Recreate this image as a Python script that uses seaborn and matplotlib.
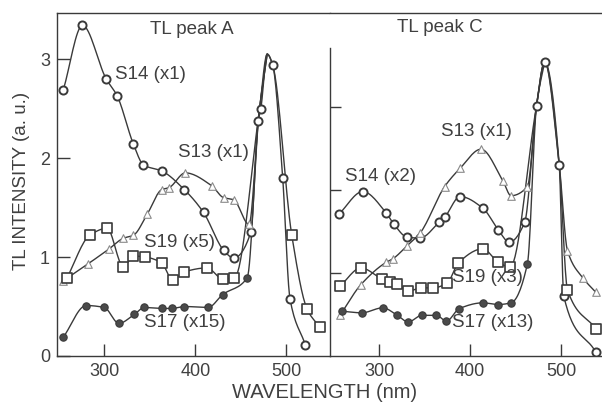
import numpy as np
import seaborn as sns
import matplotlib
matplotlib.use("Agg")
import matplotlib.pyplot as plt

# ---- TL peak A (left panel) ----
a14_wl = [255, 276, 302, 314, 332, 343, 363, 388, 409, 431, 442, 461, 469, 472, 485, 496, 504, 521]
a14_tl = [2.69, 3.34, 2.80, 2.63, 2.14, 1.93, 1.87, 1.68, 1.45, 1.07, 0.99, 1.25, 2.37, 2.50, 2.94, 1.80, 0.58, 0.11]

a13_wl = [255, 282, 305, 321, 332, 347, 363, 371, 389, 418, 431, 442, 459]
a13_tl = [0.76, 0.93, 1.08, 1.19, 1.22, 1.43, 1.68, 1.70, 1.85, 1.72, 1.60, 1.58, 1.33]

a19_wl = [259, 284, 303, 321, 332, 345, 363, 375, 388, 413, 430, 443, 506, 523, 537]
a19_tl = [0.79, 1.22, 1.29, 0.90, 1.01, 1.00, 0.94, 0.77, 0.85, 0.89, 0.78, 0.79, 1.22, 0.47, 0.29]

a17_wl = [255, 280, 300, 316, 333, 344, 363, 374, 388, 414, 430, 457]
a17_tl = [0.19, 0.51, 0.49, 0.33, 0.42, 0.49, 0.48, 0.48, 0.50, 0.49, 0.62, 0.79]

# shared points of the big emission band (curve only)
a_rise = (470, 2.45)
a_peak = (479, 3.05)
a_fall = (485, 2.94)

# ---- TL peak C (right panel) ----
c14_wl = [256, 282, 308, 316, 331, 345, 366, 372, 389, 414, 431, 443, 460, 473, 482, 498, 503, 538]
c14_tl = [1.71, 1.98, 1.72, 1.59, 1.43, 1.42, 1.61, 1.67, 1.92, 1.78, 1.52, 1.37, 1.61, 3.01, 3.54, 2.30, 0.72, 0.05]

c13_wl = [257, 280, 308, 315, 331, 345, 372, 389, 412, 436, 445, 463, 507, 524, 538]
c13_tl = [0.49, 0.86, 1.13, 1.17, 1.33, 1.48, 2.04, 2.26, 2.49, 2.11, 1.93, 2.04, 1.27, 0.94, 0.77]

c19_wl = [257, 280, 303, 312, 320, 332, 346, 359, 375, 387, 414, 431, 444, 507, 538]
c19_tl = [0.84, 1.06, 0.93, 0.89, 0.87, 0.78, 0.82, 0.82, 0.88, 1.12, 1.29, 1.13, 1.07, 0.80, 0.33]

c17_wl = [259, 281, 304, 320, 332, 347, 363, 374, 388, 414, 431, 445, 463]
c17_tl = [0.54, 0.52, 0.58, 0.49, 0.41, 0.49, 0.49, 0.42, 0.57, 0.64, 0.62, 0.64, 1.11]

c_rise = (473, 3.01)
c_peak = (482, 3.54)
c_fall = (498, 2.30)

INK = "#3a3a3a"
TXT = "#404040"


def pchip(x, y, n=16):
    # monotone cubic curve through the points (for drawing the smooth line)
    x = np.asarray(x, float)
    y = np.asarray(y, float)
    h = np.diff(x)
    d = np.diff(y) / h
    m = np.zeros_like(y)
    m[0], m[-1] = d[0], d[-1]
    for k in range(1, len(x) - 1):
        if d[k - 1] * d[k] > 0:
            w1 = 2 * h[k] + h[k - 1]
            w2 = h[k] + 2 * h[k - 1]
            m[k] = (w1 + w2) / (w1 / d[k - 1] + w2 / d[k])
    xs, ys = [], []
    for k in range(len(x) - 1):
        t = np.linspace(0, 1, n, endpoint=False)
        h00 = 2 * t**3 - 3 * t**2 + 1
        h10 = t**3 - 2 * t**2 + t
        h01 = -2 * t**3 + 3 * t**2
        h11 = t**3 - t**2
        xs.append(x[k] + t * h[k])
        ys.append(h00 * y[k] + h10 * h[k] * m[k] + h01 * y[k + 1] + h11 * h[k] * m[k + 1])
    xs.append([x[-1]])
    ys.append([y[-1]])
    return np.concatenate(xs), np.concatenate(ys)


def with_extra(wl, tl, extra):
    pts = sorted(list(zip(wl, tl)) + list(extra))
    return [p[0] for p in pts], [p[1] for p in pts]


def draw(ax, wl, tl, extra, kind):
    lx, ly = with_extra(wl, tl, extra)
    sx, sy = pchip(lx, ly)
    sns.lineplot(x=sx, y=sy, ax=ax, color=INK, lw=1.0, sort=False, estimator=None, zorder=2)
    if kind == "circle":
        sns.scatterplot(x=wl, y=tl, ax=ax, marker="o", s=34, facecolor="white",
                        edgecolor=INK, linewidth=1.4, zorder=3)
    elif kind == "square":
        sns.scatterplot(x=wl, y=tl, ax=ax, marker="s", s=44, facecolor="white",
                        edgecolor=INK, linewidth=1.2, zorder=3)
    elif kind == "tri":
        sns.scatterplot(x=wl, y=tl, ax=ax, marker="^", s=30, facecolor="white",
                        edgecolor="#8a8a8a", linewidth=0.8, zorder=3)
    else:
        sns.scatterplot(x=wl, y=tl, ax=ax, marker="o", s=28, facecolor="#4a4a4a",
                        edgecolor=INK, linewidth=0.8, zorder=3)


sns.set_style("ticks")
plt.rcParams["font.family"] = ["Liberation Sans", "DejaVu Sans"]

fig = plt.figure(figsize=(6.02, 4.05), dpi=100)
axA = fig.add_axes([57 / 602, 1 - 356 / 405, 273 / 602, 343 / 405])
axC = fig.add_axes([330 / 602, 1 - 356 / 405, 272 / 602, 343 / 405])

draw(axA, a14_wl, a14_tl, [a_peak], "circle")
draw(axA, a13_wl, a13_tl, [a_rise, a_peak], "tri")
draw(axA, a19_wl, a19_tl, [a_rise, a_peak, a_fall], "square")
draw(axA, a17_wl, a17_tl, [a_rise, a_peak], "filled")

draw(axC, c14_wl, c14_tl, [], "circle")
draw(axC, c13_wl, c13_tl, [c_rise, c_peak, c_fall], "tri")
draw(axC, c19_wl, c19_tl, [c_rise, c_peak, c_fall], "square")
draw(axC, c17_wl, c17_tl, [c_rise, c_peak], "filled")

axA.set_xlim(248, 548)
axA.set_ylim(0, 3.465)
axC.set_xlim(246, 545)
axC.set_ylim(0, 4.13)

axA.set_xticks([300, 400, 500])
axA.set_yticks([0, 1, 2, 3])
axC.set_xticks([300, 400, 500])
axC.set_yticks([1, 2, 3])
axC.set_yticklabels([])

for ax in (axA, axC):
    ax.tick_params(direction="in", length=9, width=1, colors=INK, labelsize=13,
                   labelcolor=TXT, pad=5)
    ax.spines["right"].set_visible(False)
    for s in ("top", "left", "bottom"):
        ax.spines[s].set_color(INK)
        ax.spines[s].set_linewidth(1.0)
    ax.set_xlabel("")
    ax.set_ylabel("")
axC.spines["left"].set_bounds(0, 3.71)
axC.tick_params(axis="y", length=8)

tk = dict(fontsize=13.5, color=TXT)
axA.text(396, 3.30, "TL peak A", ha="center", va="center", **tk)
axA.text(312, 2.84, "S14 (x1)", ha="left", va="center", **tk)
axA.text(381, 2.06, "S13 (x1)", ha="left", va="center", **tk)
axA.text(344, 1.15, "S19 (x5)", ha="left", va="center", **tk)
axA.text(344, 0.34, "S17 (x15)", ha="left", va="center", **tk)

axC.text(367, 3.95, "TL peak C", ha="center", va="center", **tk)
axC.text(368, 2.70, "S13 (x1)", ha="left", va="center", **tk)
axC.text(262, 2.16, "S14 (x2)", ha="left", va="center", **tk)
axC.text(380, 0.94, "S19 (x3)", ha="left", va="center", **tk)
axC.text(380, 0.40, "S17 (x13)", ha="left", va="center", **tk)

fig.text(325 / 602, 1 - 392 / 405, "WAVELENGTH (nm)", ha="center", va="center",
         fontsize=14.5, color=TXT)
fig.text(22 / 602, 1 - 181 / 405, "TL INTENSITY (a. u.)", ha="center", va="center",
         rotation=90, fontsize=13.5, color=TXT)

fig.savefig("out.png", dpi=100, facecolor="white")
